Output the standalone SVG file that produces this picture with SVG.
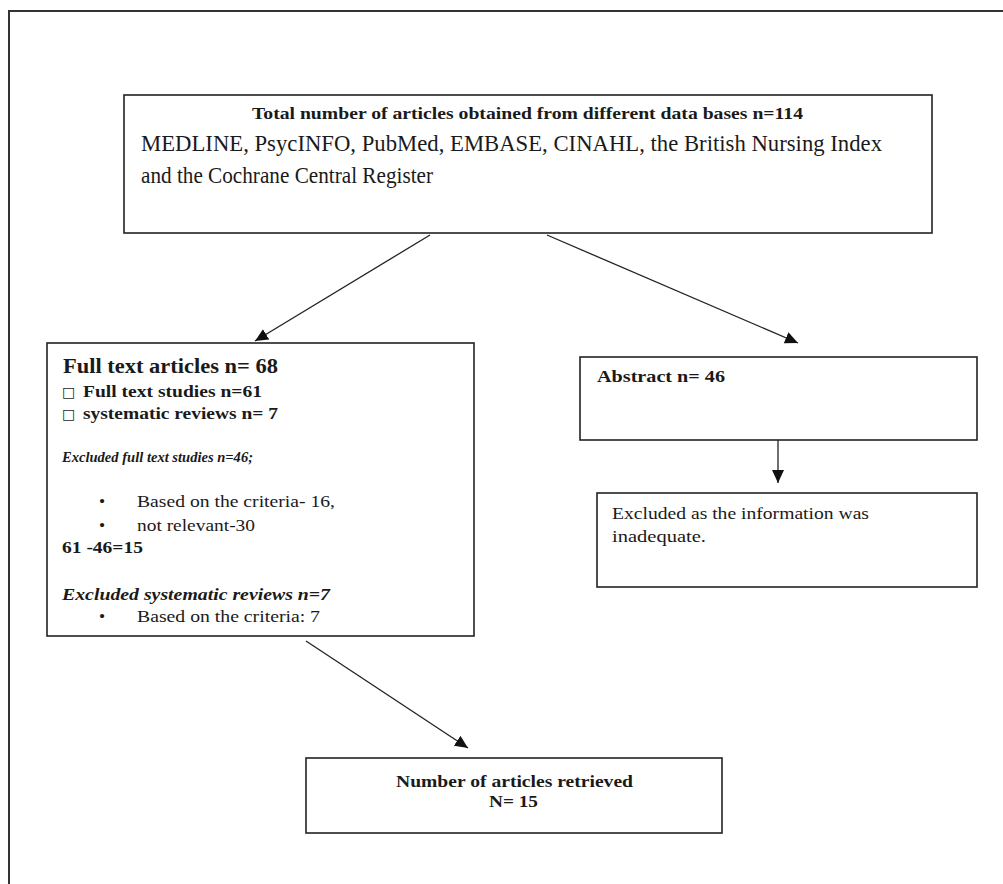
<svg xmlns="http://www.w3.org/2000/svg" width="1003" height="884" viewBox="0 0 1003 884">
<defs>
<style>
.box{fill:#fff;stroke:#222;stroke-width:1.6}
.ln{stroke:#222;stroke-width:1.3;fill:none}
text{font-family:"Liberation Serif","Times New Roman",serif;fill:#1a1a1a}
.b{font-weight:bold}
.i{font-style:italic;font-weight:bold}
.s{font-size:17.5px}
.sym{font-family:"DejaVu Sans",sans-serif;font-size:14px}
</style>
<marker id="ah" markerUnits="userSpaceOnUse" markerWidth="14" markerHeight="12" refX="13" refY="6" orient="auto">
<path d="M0,0 L13,6 L0,12 Z" fill="#111"/>
</marker>
</defs>
<rect width="1003" height="884" fill="#fff"/>
<path d="M9,884 V11 H1003" fill="none" stroke="#333" stroke-width="2"/>

<g id="node-total">
<rect class="box" x="124" y="95" width="808" height="138"/>
<text class="b" x="252" y="119" font-size="16.5" textLength="551" lengthAdjust="spacingAndGlyphs">Total number of articles obtained from different data bases n=114</text>
<text x="141" y="151" font-size="22.5" textLength="741" lengthAdjust="spacingAndGlyphs">MEDLINE, PsycINFO, PubMed, EMBASE, CINAHL, the British Nursing Index</text>
<text x="141" y="183" font-size="22.5" textLength="292" lengthAdjust="spacingAndGlyphs">and the Cochrane Central Register</text>
</g>

<g id="node-fulltext">
<rect class="box" x="47" y="343" width="427" height="293"/>
<text class="b" x="63" y="373" font-size="21.5" textLength="215" lengthAdjust="spacingAndGlyphs">Full text articles n= 68</text>
<text class="sym" x="62" y="397">□</text>
<text class="b s" x="83" y="397" textLength="179" lengthAdjust="spacingAndGlyphs">Full text studies n=61</text>
<text class="sym" x="62" y="419">□</text>
<text class="b s" x="83" y="419" textLength="195" lengthAdjust="spacingAndGlyphs">systematic reviews n= 7</text>
<text class="i" x="62" y="462" font-size="15" textLength="191" lengthAdjust="spacingAndGlyphs">Excluded full text studies n=46;</text>
<text class="s" x="99" y="507">•</text>
<text class="s" x="137" y="507" textLength="198" lengthAdjust="spacingAndGlyphs">Based on the criteria- 16,</text>
<text class="s" x="99" y="531">•</text>
<text class="s" x="137" y="531" textLength="118" lengthAdjust="spacingAndGlyphs">not relevant-30</text>
<text class="b s" x="62" y="553" textLength="81" lengthAdjust="spacingAndGlyphs">61 -46=15</text>
<text class="i s" x="62" y="600" textLength="268" lengthAdjust="spacingAndGlyphs">Excluded systematic reviews n=7</text>
<text class="s" x="99" y="622">•</text>
<text class="s" x="137" y="622" textLength="183" lengthAdjust="spacingAndGlyphs">Based on the criteria: 7</text>
</g>

<g id="node-abstract">
<rect class="box" x="580" y="357" width="397" height="83"/>
<text class="b s" x="597" y="382" textLength="128" lengthAdjust="spacingAndGlyphs">Abstract  n= 46</text>
</g>

<g id="node-excluded">
<rect class="box" x="597" y="493" width="380" height="94"/>
<text class="s" x="612" y="519" textLength="257" lengthAdjust="spacingAndGlyphs">Excluded as the information was</text>
<text class="s" x="612" y="542" textLength="94" lengthAdjust="spacingAndGlyphs">inadequate.</text>
</g>

<g id="node-retrieved">
<rect class="box" x="306" y="758" width="416" height="75"/>
<text class="b s" x="396" y="787" textLength="237" lengthAdjust="spacingAndGlyphs">Number of articles retrieved</text>
<text class="b s" x="489" y="807" textLength="49" lengthAdjust="spacingAndGlyphs">N= 15</text>
</g>

<g id="connectors">
<line class="ln" x1="430" y1="235" x2="255" y2="341" marker-end="url(#ah)"/>
<line class="ln" x1="547" y1="235" x2="798" y2="343" marker-end="url(#ah)"/>
<line class="ln" x1="778" y1="440" x2="778" y2="483" marker-end="url(#ah)"/>
<line class="ln" x1="306" y1="641" x2="468" y2="748" marker-end="url(#ah)"/>
</g>
</svg>
